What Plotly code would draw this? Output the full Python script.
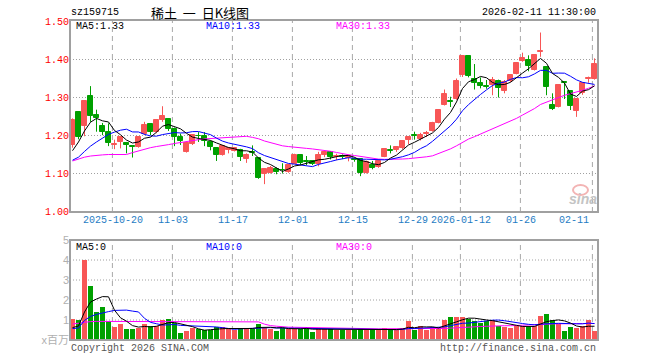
import numpy as np
import plotly.graph_objects as go

# ---------------- data ----------------
tick_index = [7, 17, 27, 37, 47, 57, 65, 75, 87]
tick_labels = ["2025-10-20", "11-03", "11-17", "12-01", "12-15", "12-29",
               "2026-01-12", "01-26", "02-11"]

open_ = [1.176, 1.261, 1.225, 1.303, 1.253, 1.224, 1.209, 1.175, 1.183, 1.179,
         1.173, 1.170, 1.203, 1.230, 1.210, 1.240, 1.243, 1.216, 1.196, 1.157,
         1.177, 1.200, 1.198, 1.183, 1.167, 1.148, 1.163, 1.160, 1.163, 1.139,
         1.157, 1.141, 1.100, 1.102, 1.111, 1.110, 1.104, 1.126, 1.148, 1.132,
         1.132, 1.124, 1.148, 1.157, 1.143, 1.145, 1.140, 1.137, 1.139, 1.102,
         1.122, 1.117, 1.144, 1.162, 1.161, 1.166, 1.189, 1.202, 1.192, 1.203,
         1.212, 1.233, 1.280, 1.291, 1.295, 1.359, 1.409, 1.350, 1.338, 1.329,
         1.332, 1.344, 1.318, 1.343, 1.363, 1.397, 1.398, 1.372, 1.420, 1.381,
         1.280, 1.275, 1.340, 1.317, 1.264, 1.311, 1.348, 1.348]
high = [1.245, 1.262, 1.292, 1.330, 1.268, 1.233, 1.232, 1.189, 1.196, 1.183,
        1.175, 1.196, 1.236, 1.231, 1.241, 1.277, 1.246, 1.221, 1.205, 1.184,
        1.202, 1.209, 1.209, 1.187, 1.167, 1.175, 1.170, 1.170, 1.165, 1.153,
        1.174, 1.142, 1.113, 1.120, 1.116, 1.127, 1.124, 1.152, 1.149, 1.146,
        1.134, 1.157, 1.161, 1.158, 1.152, 1.150, 1.150, 1.142, 1.140, 1.134,
        1.133, 1.135, 1.166, 1.174, 1.172, 1.188, 1.197, 1.210, 1.207, 1.212,
        1.236, 1.268, 1.321, 1.302, 1.350, 1.410, 1.410, 1.388, 1.353, 1.346,
        1.354, 1.347, 1.346, 1.360, 1.393, 1.418, 1.411, 1.414, 1.471, 1.382,
        1.311, 1.333, 1.341, 1.318, 1.298, 1.340, 1.355, 1.403]
low = [1.168, 1.190, 1.198, 1.236, 1.210, 1.201, 1.172, 1.164, 1.166, 1.153,
       1.142, 1.168, 1.201, 1.201, 1.206, 1.236, 1.212, 1.172, 1.175, 1.155,
       1.175, 1.183, 1.172, 1.161, 1.133, 1.147, 1.153, 1.158, 1.133, 1.128,
       1.146, 1.086, 1.072, 1.100, 1.098, 1.100, 1.102, 1.125, 1.122, 1.122,
       1.122, 1.119, 1.143, 1.137, 1.135, 1.138, 1.132, 1.131, 1.093, 1.100,
       1.111, 1.115, 1.143, 1.153, 1.157, 1.164, 1.177, 1.189, 1.187, 1.196,
       1.210, 1.232, 1.279, 1.275, 1.294, 1.354, 1.353, 1.321, 1.324, 1.323,
       1.306, 1.300, 1.311, 1.341, 1.361, 1.394, 1.369, 1.371, 1.407, 1.306,
       1.267, 1.274, 1.296, 1.267, 1.249, 1.307, 1.339, 1.347]
close = [1.242, 1.196, 1.290, 1.251, 1.246, 1.210, 1.181, 1.178, 1.195, 1.176,
         1.171, 1.195, 1.227, 1.210, 1.240, 1.251, 1.216, 1.196, 1.185, 1.181,
         1.201, 1.198, 1.185, 1.170, 1.148, 1.172, 1.167, 1.168, 1.144, 1.148,
         1.155, 1.089, 1.111, 1.115, 1.104, 1.108, 1.122, 1.150, 1.128, 1.130,
         1.124, 1.148, 1.157, 1.144, 1.146, 1.143, 1.146, 1.135, 1.102, 1.131,
         1.115, 1.133, 1.164, 1.160, 1.170, 1.186, 1.195, 1.200, 1.201, 1.206,
         1.232, 1.267, 1.309, 1.289, 1.344, 1.409, 1.356, 1.338, 1.330, 1.327,
         1.347, 1.326, 1.341, 1.359, 1.392, 1.403, 1.383, 1.413, 1.423, 1.328,
         1.269, 1.332, 1.338, 1.278, 1.297, 1.339, 1.351, 1.389]
volume = [1.07, 1.02, 4.02, 2.72, 1.42, 1.67, 0.97, 0.67, 0.82, 0.57,
          0.57, 0.60, 0.82, 0.72, 0.72, 1.02, 1.07, 0.85, 0.37, 0.47,
          0.58, 0.53, 0.50, 0.50, 0.63, 0.67, 0.57, 0.52, 0.62, 0.62,
          0.55, 0.82, 0.62, 0.57, 0.47, 0.62, 0.57, 0.57, 0.57, 0.57,
          0.42, 0.57, 0.57, 0.55, 0.52, 0.50, 0.50, 0.50, 0.55, 0.50,
          0.50, 0.50, 0.62, 0.50, 0.50, 0.62, 0.93, 0.52, 0.72, 0.48,
          0.65, 0.65, 0.98, 1.13, 1.13, 1.17, 1.05, 0.97, 0.85, 0.97,
          1.00, 0.72, 0.65, 0.58, 0.72, 0.72, 0.65, 0.72, 1.18, 1.32,
          0.98, 0.82, 0.47, 0.65, 0.58, 0.72, 1.02, 0.47]

# moving-average values before a full window exists
ma5_head = [1.160, 1.183, 1.212, 1.235]
ma10_head = [1.135, 1.143, 1.158, 1.172, 1.183, 1.194, 1.203, 1.209, 1.214]
ma30_head = [1.133, 1.139, 1.143, 1.146, 1.148, 1.149, 1.150, 1.150, 1.150, 1.150,
             1.155, 1.160, 1.164, 1.168, 1.171, 1.173, 1.176, 1.179, 1.182, 1.185,
             1.187, 1.189, 1.191, 1.192, 1.193, 1.194, 1.196, 1.196, 1.197]
vma5_head = [0.62, 0.70, 1.40, 1.90]
vma10_head = [0.57, 0.60, 0.98, 1.18, 1.28, 1.36, 1.42, 1.48, 1.50]
vma30_head = [0.80, 0.85, 0.90, 0.92, 0.93, 0.93, 0.93, 0.93, 0.93, 0.93,
              0.93, 0.93, 0.93, 0.93, 0.93, 0.93, 0.93, 0.93, 0.93, 0.93,
              0.93, 0.93, 0.93, 0.93, 0.93, 0.93, 0.93, 0.93, 0.93]

price_ticks = [1.00, 1.10, 1.20, 1.30, 1.40, 1.50]
vol_ticks = [0, 1, 2, 3, 4, 5]
vol_ticktext = ["x百万", "1", "2", "3", "4", "5"]

# ---------------- helpers ----------------
RED = "#f85656"
GREEN = "#00a000"
MONO = "Liberation Mono, DejaVu Sans Mono, monospace"
W, H = 660, 360
L, R, T, B = 70, 598, 20, 340


def ma(arr, n, head):
    out = list(head)
    for i in range(len(head), len(arr)):
        out.append(float(np.mean(arr[i - n + 1:i + 1])))
    return out


def pxx(px):
    return (px - L) / (R - L)


def pxy(py):
    return (B - py) / (B - T)


n = len(close)
xs = list(range(n))
up = [c >= o for o, c in zip(open_, close)]
colors = [RED if u else GREEN for u in up]

fig = go.Figure()

# wicks
for flag, col in ((True, RED), (False, GREEN)):
    wx, wy = [], []
    for i in xs:
        if up[i] == flag:
            wx += [i, i, None]
            wy += [low[i], high[i], None]
    fig.add_trace(go.Scatter(x=wx, y=wy, mode="lines", line=dict(color=col, width=1),
                             xaxis="x", yaxis="y", hoverinfo="skip"))

# bodies
base = [min(o, c) for o, c in zip(open_, close)]
hgt = [max(abs(c - o), 0.0015) for o, c in zip(open_, close)]
fig.add_trace(go.Bar(x=xs, y=hgt, base=base, width=0.68,
                     marker=dict(color=colors, line=dict(color=colors, width=1)),
                     xaxis="x", yaxis="y", hoverinfo="skip"))

# price MAs
for vals, col in ((ma(close, 30, ma30_head), "#ff00ff"),
                  (ma(close, 10, ma10_head), "#0000ff"),
                  (ma(close, 5, ma5_head), "#000000")):
    fig.add_trace(go.Scatter(x=xs, y=vals, mode="lines", line=dict(color=col, width=1),
                             xaxis="x", yaxis="y", hoverinfo="skip"))

# volume bars
fig.add_trace(go.Bar(x=xs, y=volume, width=0.8, marker=dict(color=colors, line=dict(width=0)),
                     xaxis="x2", yaxis="y2", hoverinfo="skip"))
for vals, col in ((ma(volume, 30, vma30_head), "#ff00ff"),
                  (ma(volume, 10, vma10_head), "#0000ff"),
                  (ma(volume, 5, vma5_head), "#000000")):
    fig.add_trace(go.Scatter(x=xs, y=vals, mode="lines", line=dict(color=col, width=1),
                             xaxis="x2", yaxis="y2", hoverinfo="skip"))

xr = [-2.5 / 6, -2.5 / 6 + (R - L) / 6]
price_dom = [pxy(212), 1.0]
vol_dom = [0.0, pxy(240)]
prange = [1.0 - 0.5 / 380, 1.5 + 1.5 / 380]

shapes = []
# horizontal dotted grid
for v in price_ticks[1:-1]:
    shapes.append(dict(type="line", xref="paper", yref="y", x0=0, x1=1, y0=v, y1=v,
                       line=dict(color="#a0a0a0", width=1, dash="1px,2px"), layer="below"))
for v in vol_ticks[1:-1]:
    shapes.append(dict(type="line", xref="paper", yref="y2", x0=0, x1=1, y0=v, y1=v,
                       line=dict(color="#a0a0a0", width=1, dash="1px,2px"), layer="below"))
# vertical dashed grid
for ti in tick_index:
    for dom in (price_dom, vol_dom):
        shapes.append(dict(type="line", xref="x", yref="paper", x0=ti - 0.35, x1=ti - 0.35,
                           y0=dom[0], y1=dom[1],
                           line=dict(color="#a8a8a8", width=1, dash="5px,4px"), layer="below"))
# frames
for dom in (price_dom, vol_dom):
    shapes.append(dict(type="rect", xref="paper", yref="paper", x0=0, x1=1, y0=dom[0], y1=dom[1],
                       line=dict(color="#a0a0a0", width=2), fillcolor="rgba(0,0,0,0)", layer="above"))
# sina logo ring
shapes.append(dict(type="circle", xref="paper", yref="paper", x0=pxx(573), x1=pxx(588),
                   y0=pxy(195), y1=pxy(185), line=dict(color="#f3b4b4", width=2), layer="below"))

ann = []


def text(px, py, s, color="#000", size=10, family=MONO, xanchor="left", **kw):
    ann.append(dict(x=pxx(px), y=pxy(py), xref="paper", yref="paper", text=s, showarrow=False,
                    xanchor=xanchor, yanchor="middle", font=dict(color=color, size=size, family=family),
                    **kw))


text(69, 12, "sz159715", size=10)
text(200, 12, "稀土&nbsp;&nbsp;一&nbsp;&nbsp;日K线图", size=13, family="Noto Sans CJK SC",
     xanchor="center")
text(598, 12, "2026-02-11 11:30:00", xanchor="right")
text(74, 27, "MA5:1.33")
text(204, 27, "MA10:1.33", color="#0000ff")
text(334, 27, "MA30:1.33", color="#ff00ff")
text(74, 247, "MA5:0")
text(204, 247, "MA10:0", color="#0000ff")
text(334, 247, "MA30:0", color="#ff00ff")
for ti, lab in zip(tick_index, tick_labels):
    cx = L + 2.5 + 6 * ti - 2
    if ti == tick_index[-1]:
        text(591, 220, lab, color="#1f7dc4", xanchor="right")
    else:
        text(cx, 220, lab, color="#1f7dc4", xanchor="center")
text(69, 348, "Copyright 2026 SINA.COM", color="#555555")
text(598, 348, "http://finance.sina.com.cn", color="#555555", xanchor="right")
text(583, 199, "<b><i>sina</i></b>", color="#c4c4c4", size=14, family="Liberation Sans",
     xanchor="center")

fig.update_layout(
    width=W, height=H,
    margin=dict(l=L, r=W - R, t=T, b=H - B, pad=0),
    paper_bgcolor="white", plot_bgcolor="white",
    showlegend=False, barmode="overlay", bargap=0,
    xaxis=dict(domain=[0, 1], range=xr, anchor="y", showticklabels=False, showgrid=False,
               zeroline=False, showline=False, fixedrange=True),
    xaxis2=dict(domain=[0, 1], range=xr, anchor="y2", matches="x", showticklabels=False,
                showgrid=False, zeroline=False, showline=False),
    yaxis=dict(domain=price_dom, range=prange, tickvals=price_ticks,
               ticktext=["%.2f" % v for v in price_ticks], showgrid=False, zeroline=False,
               showline=False, ticks="", tickfont=dict(color="#ff0000", size=10, family=MONO)),
    yaxis2=dict(domain=vol_dom, range=[0, 5], tickvals=vol_ticks, ticktext=vol_ticktext,
                showgrid=False, zeroline=False, showline=False, ticks="",
                tickfont=dict(color="#b0b0b0", size=11, family="Liberation Sans, Noto Sans CJK SC")),
    shapes=shapes, annotations=ann, hovermode=False,
)

fig.write_html("out.html")
